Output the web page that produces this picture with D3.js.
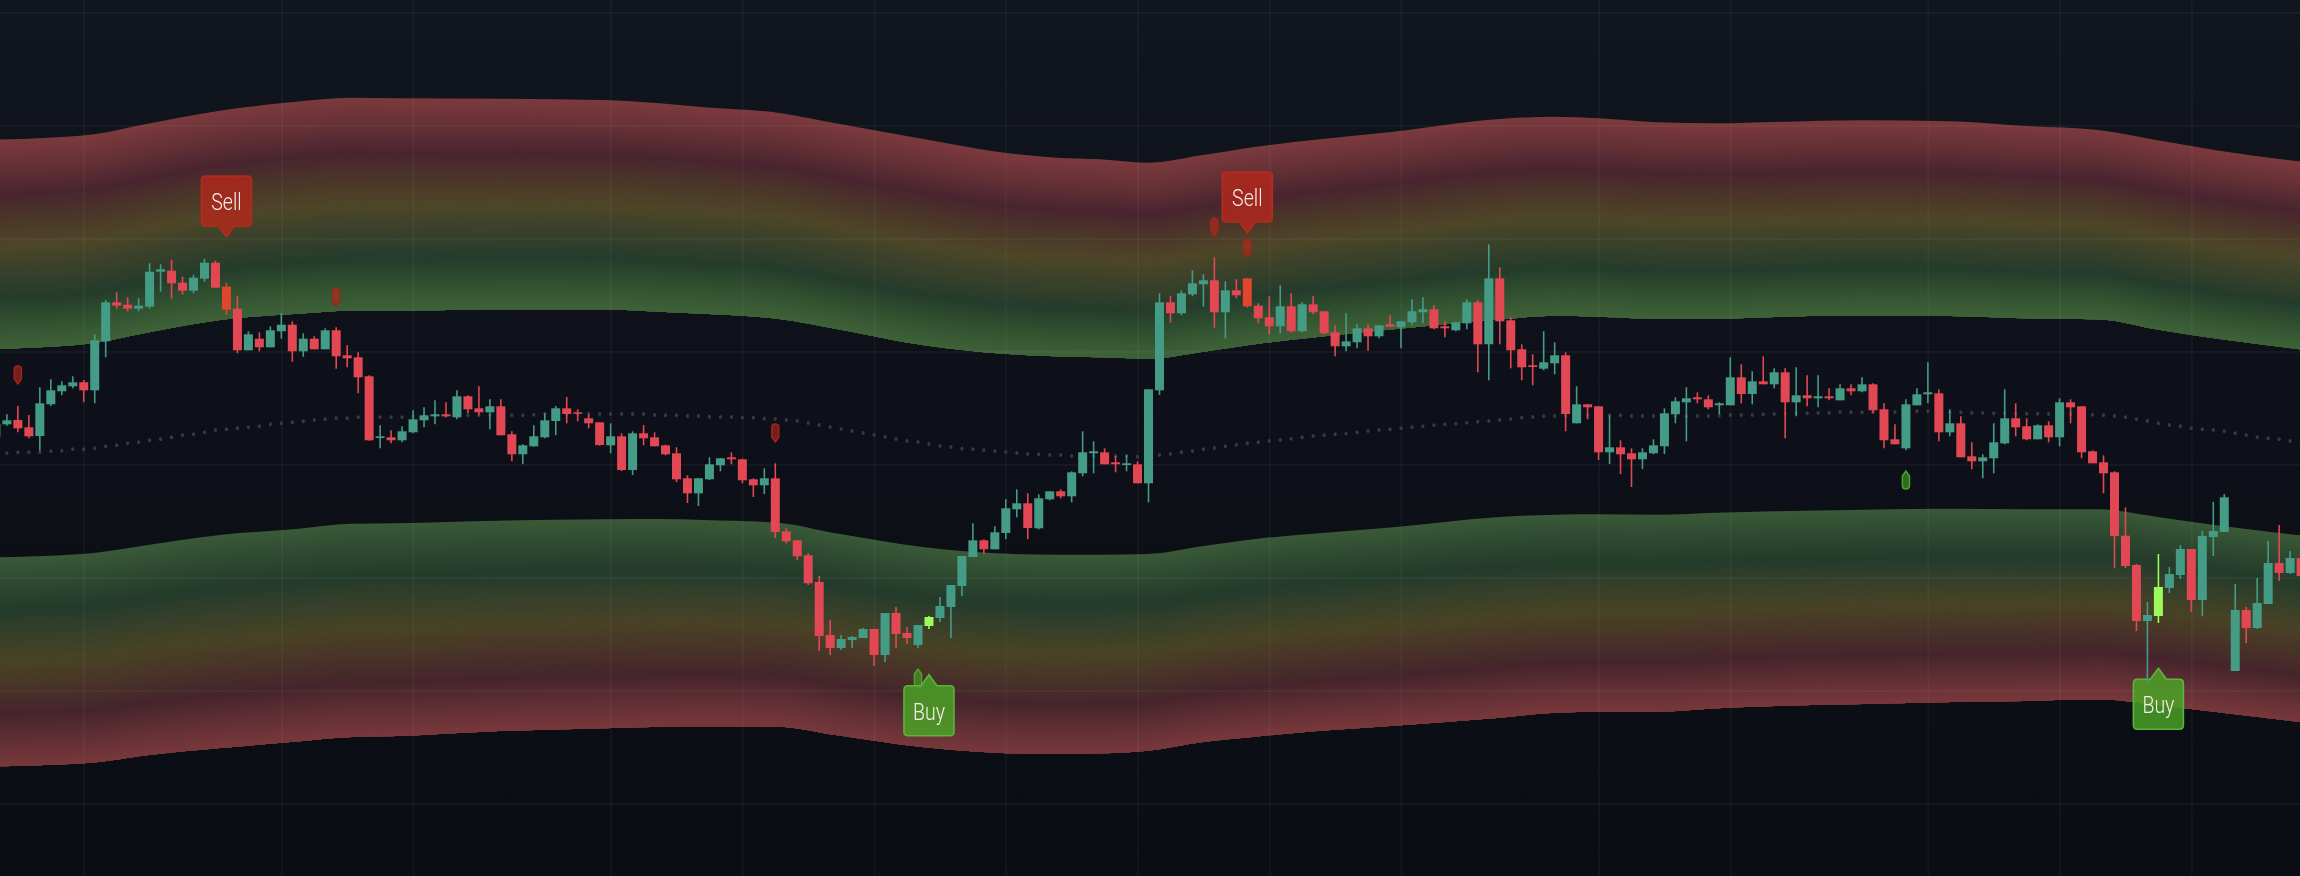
<!DOCTYPE html>
<html>
<head>
<meta charset="utf-8">
<script src="https://cdn.jsdelivr.net/npm/d3@7/dist/d3.min.js"></script>
<style>
html,body{margin:0;padding:0;background:#0d1018;overflow:hidden}
svg{display:block;filter:blur(0.35px)}
</style>
</head>
<body>
<svg id="chart" width="2300" height="876"></svg>
<script>
const opens = [439.3,451.7,456,448.7,440,471.7,484.7,489.7,493.7,485.7,
534.7,573.7,571.3,567.3,569.3,604.3,605.3,593.3,585.3,597.3,
613.3,589.3,567.3,525.7,537.3,528.7,544.7,551.3,524.7,537.3,
526.7,545.7,520.7,518.7,499.7,438,438.7,435.7,443.7,455.7,
459.7,461.7,458.7,479.7,467.7,463.7,469.7,441.7,421.7,429.7,
438.7,455,467.7,463.7,457.7,453.7,430.7,439.7,406,442.7,
438.7,430.7,422.7,397.7,382.7,396.7,410.7,418.7,416.7,396.7,
390.7,397.7,344.7,335.7,320.7,294,241,228,236,238,
247,221,263,243,231,250,258,269,290,319,
335.7,326.7,343,366.7,372.7,347.7,376.7,384.7,379.7,402.7,
422.7,423.7,413.7,411,411.7,392.7,485.7,573.7,562.7,581.7,
591.7,595.7,563.7,585.7,597.7,570.3,558.7,549.7,569.7,544.7,
571.7,564.7,543.7,529.7,533.7,547.7,539.7,551.7,548.7,553.7,
563.7,566.7,549.7,545.7,552.7,573.7,531.7,597.7,555.7,526.7,
510.7,507.3,512.7,520.7,452.7,471.7,469.7,423.7,428.7,422.7,
416.7,422.7,429.7,461.7,473.7,478.7,476.7,470.7,470.7,498.7,
482,494.7,491.7,503.7,473.7,480.7,477.7,479.7,475.7,487.7,
484.7,491.7,466.7,436.7,427.7,470.7,481.7,482.7,443.7,452.7,
419.7,414.7,417.7,432.7,457.7,449.7,436.7,450.7,438.7,473.7,
469.7,424.7,413.7,403.7,340.3,311,255,260,288,301,
327,276,339,344,205,266,248,272,313,303,318];
const highs = [453,461.7,470,461,488.7,496.7,494.7,499.7,496,541.7,
576,583.7,578.7,577.7,612.7,611.7,616.3,599.3,601.3,617.3,
615.3,593.3,580.3,544.7,543.7,549.7,562.7,554.7,542.7,539.7,
547.7,548.7,530.7,523.7,500.7,450.7,445.7,449.7,465.7,468.7,
475.7,473.7,485.7,480.7,489.7,476.7,476.7,444.7,431.7,450.7,
462.7,470,479,466.7,461.7,453.7,452.7,442.7,444.7,451,
443.7,431.3,428.7,400.7,398,418.7,418,423.7,417.3,397.7,
407.7,412.7,347.7,336,322.7,300,256,241,240,248,
247,263,269,249,251,260,279,291,320,352.7,
336.7,349.7,376.7,386.7,382.7,381.7,384.7,386.7,404.7,444.7,
434.7,427.7,420,421,414.7,486.7,582.7,580.3,585.7,605.7,
601.7,618.7,594.7,596.7,597.7,572.7,579.7,590.7,582.7,573.7,
579.7,564.7,550.7,562.7,551.7,551.7,550.7,560.7,554.7,576.7,
578.7,570.7,554.7,553.7,576.7,575.7,631.7,608.7,558.7,531.7,
521.7,544.7,533.7,523.7,489.7,471.7,469.7,460.7,435.7,427.7,
427.7,436.7,467.7,478.7,488.7,483.7,480.7,473.7,518.7,511.7,
504.7,519.7,507.7,507.7,508.7,500.7,500.7,487.7,491.7,491.7,
498.7,492.7,472.7,451.7,476.7,487.7,513.7,486.7,466.7,459.7,
433.7,421.7,452.7,486.7,472.7,457.7,451.7,454.7,477.7,476.7,
469.7,425.7,420.7,404.7,368.7,312,274,322,309,331,
327,345,374,382,292,269,298,335,351,325,322];
const lows = [435,450.3,443.7,437.7,425.3,470,480.7,487.7,473.7,472.7,
518.7,567.3,564.7,564.7,567.3,584.3,577.3,581.3,582.7,594.3,
588.3,561.3,522.7,525.7,524.7,528.7,537.3,514.3,519.3,526.7,
526.7,507.3,508.7,482.7,435.3,427.7,432.7,433.7,442.7,448.7,
451.7,458.7,456.7,462.7,460.7,446.7,440.7,414.7,411.7,429.3,
437.7,440.7,452.7,454.7,447.7,430.3,422.7,405,401,430.7,
429.7,420.7,394,373,370,396,404.7,411.7,392.7,379,
382,338,332.7,316,291,225,221,226,228,238,
210,214,228,232,228,247,254,238,280,318.7,
322,326.7,336.7,358.7,337,346.7,375.7,377.7,373.7,399.7,
402.7,411.7,403.7,404.7,392.7,373.7,481,553.3,560.7,579.7,
569.3,548.3,537.7,577.7,568.3,552.7,541.3,542.7,543.7,543.7,
561.7,541.7,519.7,524.7,527.7,525.3,537.7,548.7,527.7,550.7,
552.7,546.7,538.7,544.7,546.7,503.7,495.7,531.7,507.7,495.7,
490.7,505.7,501.7,444.7,452.7,456.7,416,412,402,389,
407,421.7,422,452.7,434.7,472.7,466.7,461.7,470.7,472.7,
471.7,491.7,487.7,437.7,459.7,469.7,468.7,475.7,475.7,480.7,
483.7,462.7,427.7,431.7,425.7,470.7,472.7,434.7,439.7,418.7,
406.7,397.7,402.7,431.7,439.7,435.7,436.7,433.7,429.7,452.7,
417.7,412.7,382.7,307.7,308,245,193,253,283,297,
264,260,320,344,205,233,247,272,295,302,295];
const closes = [452,455.7,447.7,439.7,472.7,485.7,490.7,493.7,485.7,535.7,
573.7,570.3,567.3,570.3,604.3,606.7,592.7,585.3,598.3,613.3,
588.3,566.3,525.7,541.7,528.7,545.7,551.3,524.7,537.3,526.7,
545.7,519.7,517.7,498.7,435.7,439.7,435.7,444.7,456.7,460.7,
461.7,459.7,479.7,466.7,463.7,469.7,440.7,421.7,430.7,439.7,
455.7,467.7,462,462.3,452.7,431,439.7,406,442.7,437.7,
429.7,421.7,396.7,382.7,397.7,411.7,417.7,416.7,395.7,390.7,
397.7,344,334.7,319.7,292.7,240,228,237,239,247,
221,263,242,238,251,259,270,291,320,335.7,
326.7,343.7,367.7,372.7,348,377.7,384.7,379.7,403.7,423.7,
424.7,411.7,411.7,412.7,392.7,486.7,573.7,562.7,582.7,592.7,
595.7,563.7,585.7,580.7,569.7,557.7,549.7,569.7,544.7,571.7,
563.7,542.7,529.7,534.7,547.7,539.7,550.7,549.3,554.7,564.7,
566.7,547.7,547.7,553.7,573.7,531.7,597.7,554.7,525.7,508.7,
509,513.7,520.7,462,471.7,468.7,423.7,428.7,421.7,416.7,
423.7,430.7,462.7,474.7,477.7,476.7,468.7,472.7,498.7,482,
494.7,491.7,503.7,473.7,480.7,477.7,479.7,477.7,487.7,484.7,
491.7,465.7,435.7,431.7,471.7,481.7,483.7,443.7,452.7,418.7,
414.7,418.7,433.7,457.7,448.7,436.7,450.7,438.7,473.7,468.7,
423.7,412.7,402.7,340,310,255,261,289,302,327,
276,340,345,378.7,266,248,273,313,303,318,300];
const midDots = [422.3,422.7,423.7,423.7,423.7,424.7,425.3,426.7,426.7,427.7,
429.7,430.7,432.7,433.7,435.7,436.7,438.7,440.7,441.7,443.7,
446,446.7,447.7,448.7,449.7,451.7,452.7,453.7,454.7,456,
456.7,457.7,457.7,458.7,459,458.7,458.7,458.7,459.3,460,
460.3,460.3,460.7,460.7,460.7,460.7,460.7,460.7,460.7,461.3,
462.3,462.3,462.3,462.3,462.3,462,462,462,462,462,
461,460.7,460.7,460,460,459.3,459,459,458.3,458.3,
457.3,457,456,455,453,451,449,447,445,443,
441,439,437,435,434,432,430,429,427.3,426.7,
425.7,425,424,423,422,421.7,421,421,420,420,
420,420,420,420,419.3,420,421,422,423.7,425,
426.7,428,429.7,431.3,432.7,433.7,435,436,437.3,438.7,
440,440.7,441.7,442.3,443.7,445,446,446.7,447.7,448.7,
449.7,450.7,451.7,452.3,453.3,454.3,455,456,457,458.3,
459,459.7,460,460.3,460.7,460.7,460.7,460.7,460.7,460,
460,460,460,459.7,459.7,460,460,460.3,461,461,
461,461.7,462,462,462.7,462.7,463,463.3,463.7,463.7,
463.7,464,464,464,464.3,464.7,464.7,464,463.7,463.7,
463.3,463,462.7,462.7,462.3,462.3,462.3,462,462,461.7,
461.7,461.3,460.7,460,458.7,456.7,455,452.7,451,449.7,
447.7,446.7,446,444.7,442.7,441,438.7,437.7,436.7,435,433.7];

const bandIndex = [0,4.4,9.1,13.7,20.4,27.1,32.4,36.5,45.8,55.2,60.5,64.5,71.2,76.5,84.6,91.2,96.6,100.6,104.9,110,115.3,120.6,127.3,136.7,142,146,151.4,156.7,162,170.1,178.1,184.8,191.5,196.8,202.1,210.5];
const upperTop = [736.3,738,742,752,765.3,774,778.3,777.7,777.3,776,772.7,768.7,763.3,752.7,736.7,724.3,718.3,716.7,713.3,721,730,736.7,744.3,756.7,759.3,757.7,753.7,752.7,754,755.7,754.7,750,746,736,726,713.7];
const upperBottom = [527,529,533.3,543.3,556,562,565.3,565.3,566.7,566.7,564.3,562.3,557.3,547.3,530.7,522.7,519.7,518.7,517.3,524.3,532.7,539.3,546.7,556.3,560.3,559.3,557.3,557.3,559,560.7,560,557.7,556.7,546.7,537.7,526];
const lowerTop = [318.7,320,323.3,330.7,341,346.7,352.3,352.7,355.3,356.7,357,356,353.3,342.7,328.7,322.7,321.3,321.3,322,330,337.7,342.7,348.7,358.7,361.3,361.7,361.3,363.3,364.7,366.3,367.3,366.7,366.7,359.3,351,340];
const lowerBottom = [109.7,111,113.7,120.7,128,134.3,139,140,145,147.7,149.3,149.7,149.3,141,128.7,123.3,122,122.7,125.3,134,140,145.3,150.3,158,163.3,164.3,164.3,167.7,170,172,174,175,176.7,171,164.3,153.3];

const gridBars = [8,26,38,56,68,80,92,104,116,128,146,158,176,188,200];
const gridPrices = [72.5,185.5,298.5,411.5,524.5,637.5,750.5,863.5];

const sellPinBars = [2,31,71,111,114];
const sellPinPrices = [492,570,434,640,619];
const buyPinBars = [84,174];
const buyPinPrices = [207,405];
const labelBars = [21,114,85,197];
const labelPrices = [639,643,201.3,207.7];
const labelTexts = ["Sell","Sell","Buy","Buy"];
const sellBars = [21,114];
const buyBars = [85,197];

const W = 2300, H = 876;
const COL = {up:"#449c86", down:"#e24853", sell:"#e0452e", buy:"#9cfb5a"};
const x = d3.scaleLinear().domain([0,210]).range([-4.08,2301.1]);
const y = d3.scaleLinear().domain([0,876]).range([876,0]);
const svg = d3.select("#chart");

const defs = svg.append("defs");
const bg = defs.append("linearGradient").attr("id","bg").attr("x1",0).attr("x2",0).attr("y1",0).attr("y2",1);
[[0,"#11151e"],[0.5,"#0d1018"],[1,"#0a0d12"]].forEach(s=>bg.append("stop").attr("offset",s[0]).attr("stop-color",s[1]));
svg.append("rect").attr("width",W).attr("height",H).attr("fill","url(#bg)");

function band(topArr, botArr, stops){
  const pos = stops.map(s=>s[0]);
  const col = stops.map(s=>s[1]);
  const colour = d3.scaleLinear().domain(pos).range(col).interpolate(d3.interpolateRgb);
  const g = svg.append("g");
  const n = 120;
  d3.range(n).forEach(k=>{
    const t = k/n;
    const area = d3.area()
      .x((d,i)=>x(bandIndex[i]))
      .y0((d,i)=>y(botArr[i]))
      .y1((d,i)=>y(topArr[i]+(botArr[i]-topArr[i])*t))
      .curve(d3.curveMonotoneX);
    g.append("path").attr("d",area(bandIndex)).attr("fill",colour(t+0.5/n));
  });
}
band(upperTop, upperBottom, [[0,"#7c3a3d"],[0.13,"#653136"],[0.26,"#4a2530"],[0.38,"#4b3629"],[0.5,"#4e4629"],[0.63,"#39412a"],[0.76,"#253c2c"],[0.88,"#315230"],[1,"#3f6238"]]);
band(lowerTop, lowerBottom, [[0,"#3a5a37"],[0.12,"#2e4a31"],[0.25,"#243b2c"],[0.37,"#36402a"],[0.5,"#494326"],[0.63,"#493329"],[0.75,"#46242c"],[0.87,"#5f2f35"],[1,"#78383b"]]);

const gx = svg.append("g").attr("transform",`translate(0,${H})`)
  .call(d3.axisBottom(x).tickValues(gridBars).tickSize(-H).tickFormat(""));
const gy = svg.append("g")
  .call(d3.axisLeft(y).tickValues(gridPrices).tickSize(-W).tickFormat(""));
[gx,gy].forEach(g=>{
  g.select(".domain").remove();
  g.selectAll("line").attr("stroke","rgba(255,255,255,0.035)").attr("stroke-width",2);
});

svg.append("g").selectAll("ellipse").data(midDots).join("ellipse")
  .attr("cx",(d,i)=>x(i)).attr("cy",d=>y(d)).attr("rx",1.6).attr("ry",2).attr("fill","#363a42");

function pinPath(dir){
  // dir=1: tip points down, dir=-1: tip points up
  const p = d3.path();
  p.moveTo(0,0);
  p.lineTo(-3.6,-5*dir);
  p.lineTo(-3.6,-14.5*dir);
  p.quadraticCurveTo(-3.6,-18*dir,0,-18*dir);
  p.quadraticCurveTo(3.6,-18*dir,3.6,-14.5*dir);
  p.lineTo(3.6,-5*dir);
  p.closePath();
  return p.toString();
}
function labelPath(dir){
  // tip at origin; body below (dir=-1) or above (dir=1)
  const tipH=11, hw=8, w=25, h=50, r=4;
  const s=dir;
  const p = d3.path();
  p.moveTo(0,0);
  p.lineTo(hw,-tipH*s);
  p.lineTo(w-r,-tipH*s);
  p.quadraticCurveTo(w,-tipH*s,w,-(tipH+r)*s);
  p.lineTo(w,-(tipH+h-r)*s);
  p.quadraticCurveTo(w,-(tipH+h)*s,w-r,-(tipH+h)*s);
  p.lineTo(-w+r,-(tipH+h)*s);
  p.quadraticCurveTo(-w,-(tipH+h)*s,-w,-(tipH+h-r)*s);
  p.lineTo(-w,-(tipH+r)*s);
  p.quadraticCurveTo(-w,-tipH*s,-w+r,-tipH*s);
  p.lineTo(-hw,-tipH*s);
  p.closePath();
  return p.toString();
}

const pinStyle = {sell:["rgba(180,40,28,0.62)","#a4241a"], buy:["rgba(75,169,38,0.6)","#4aa52c"]};
svg.append("g").selectAll("path").data(sellPinBars).join("path")
  .attr("d",pinPath(1)).attr("transform",(d,i)=>`translate(${x(d)},${y(sellPinPrices[i])})`)
  .attr("fill",pinStyle.sell[0]).attr("stroke",pinStyle.sell[1]).attr("stroke-width",1.4);
svg.append("g").selectAll("path").data(buyPinBars).join("path")
  .attr("d",pinPath(-1)).attr("transform",(d,i)=>`translate(${x(d)},${y(buyPinPrices[i])})`)
  .attr("fill",pinStyle.buy[0]).attr("stroke",pinStyle.buy[1]).attr("stroke-width",1.4);

const labels = svg.append("g").selectAll("g").data(labelBars).join("g")
  .attr("transform",(d,i)=>`translate(${x(d)},${y(labelPrices[i])})`);
labels.append("path")
  .attr("d",(d,i)=>labelPath(labelTexts[i]==="Sell"?1:-1))
  .attr("fill",(d,i)=>labelTexts[i]==="Sell"?"rgba(180,40,28,0.8)":"rgba(75,169,38,0.8)")
  .attr("stroke",(d,i)=>labelTexts[i]==="Sell"?"#b52c1e":"#5cb33f")
  .attr("stroke-width",1.6);
labels.append("text")
  .attr("text-anchor","middle")
  .attr("transform",(d,i)=>`translate(0,${labelTexts[i]==="Sell"?-27:45}) scale(0.85,1)`)
  .attr("font-family","Roboto, sans-serif")
  .attr("font-size",23)
  .attr("font-weight",300)
  .attr("fill","#f5eeea")
  .text((d,i)=>labelTexts[i]);

const bars = d3.range(opens.length);
function barColour(i){
  if(sellBars.includes(i)) return COL.sell;
  if(buyBars.includes(i)) return COL.buy;
  return closes[i]>=opens[i]?COL.up:COL.down;
}
const candles = svg.append("g");
candles.selectAll("line").data(bars).join("line")
  .attr("x1",i=>x(i)).attr("x2",i=>x(i))
  .attr("y1",i=>y(highs[i])).attr("y2",i=>y(lows[i]))
  .attr("stroke",barColour).attr("stroke-width",1.6);
candles.selectAll("rect").data(bars).join("rect")
  .attr("x",i=>x(i)-4.5).attr("width",9)
  .attr("y",i=>y(Math.max(opens[i],closes[i])))
  .attr("height",i=>Math.max(1.5,Math.abs(y(opens[i])-y(closes[i]))))
  .attr("fill",barColour);
</script>
</body>
</html>
